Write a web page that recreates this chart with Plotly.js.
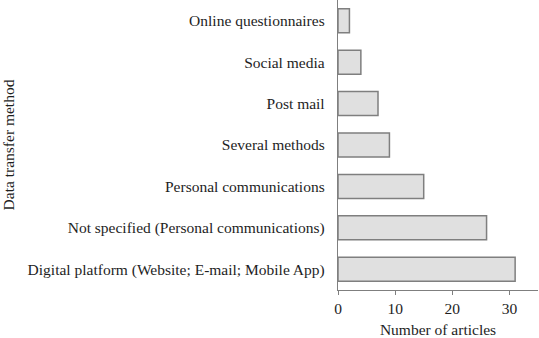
<!DOCTYPE html>
<html>
<head>
<meta charset="utf-8">
<script src="https://cdn.plot.ly/plotly-3.0.1.min.js"></script>
<style>html,body{margin:0;padding:0;background:#fff;}#chart{width:539px;height:338px;}</style>
</head>
<body>
<div id="chart"></div>
<script>
var categories = [
  "Digital platform (Website; E-mail; Mobile App)",
  "Not specified (Personal communications)",
  "Personal communications",
  "Several methods",
  "Post mail",
  "Social media",
  "Online questionnaires"
];
var articleCounts = [31, 26, 15, 9, 7, 4, 2];
var xTickValues = [0, 10, 20, 30];
var xTickLabels = ["0", "10", "20", "30"];

var font = {family: "Liberation Serif, Times New Roman, serif", size: 15.5, color: "#1e1e1e"};

var trace = {
  type: "bar",
  orientation: "h",
  y: categories,
  x: articleCounts,
  width: 0.58,
  marker: {color: "#e0e0e0", line: {color: "#7f7f7f", width: 1.5}},
  hoverinfo: "none"
};

var layout = {
  width: 539, height: 338,
  margin: {l: 337.5, r: 1, t: 0, b: 48},
  paper_bgcolor: "#fff", plot_bgcolor: "#fff",
  font: font,
  showlegend: false,
  xaxis: {
    range: [0, 35],
    tickvals: xTickValues, ticktext: xTickLabels,
    ticks: "outside", ticklen: 4, tickcolor: "#7f7f7f", tickwidth: 1,
    showline: true, linecolor: "#7f7f7f", linewidth: 1.2,
    showgrid: false, zeroline: false,
    tickfont: font,
    title: {text: "Number of articles", font: font, standoff: 8}
  },
  yaxis: {
    type: "category",
    range: [-0.5, 6.5],
    showline: true, linecolor: "#7f7f7f", linewidth: 1.2,
    showgrid: false, zeroline: false,
    ticks: "", ticklabelstandoff: 9,
    tickfont: font,
    title: {text: "Data transfer method", font: font, standoff: 9}
  }
};

Plotly.newPlot("chart", [trace], layout, {staticPlot: true, displayModeBar: false});
</script>
</body>
</html>
